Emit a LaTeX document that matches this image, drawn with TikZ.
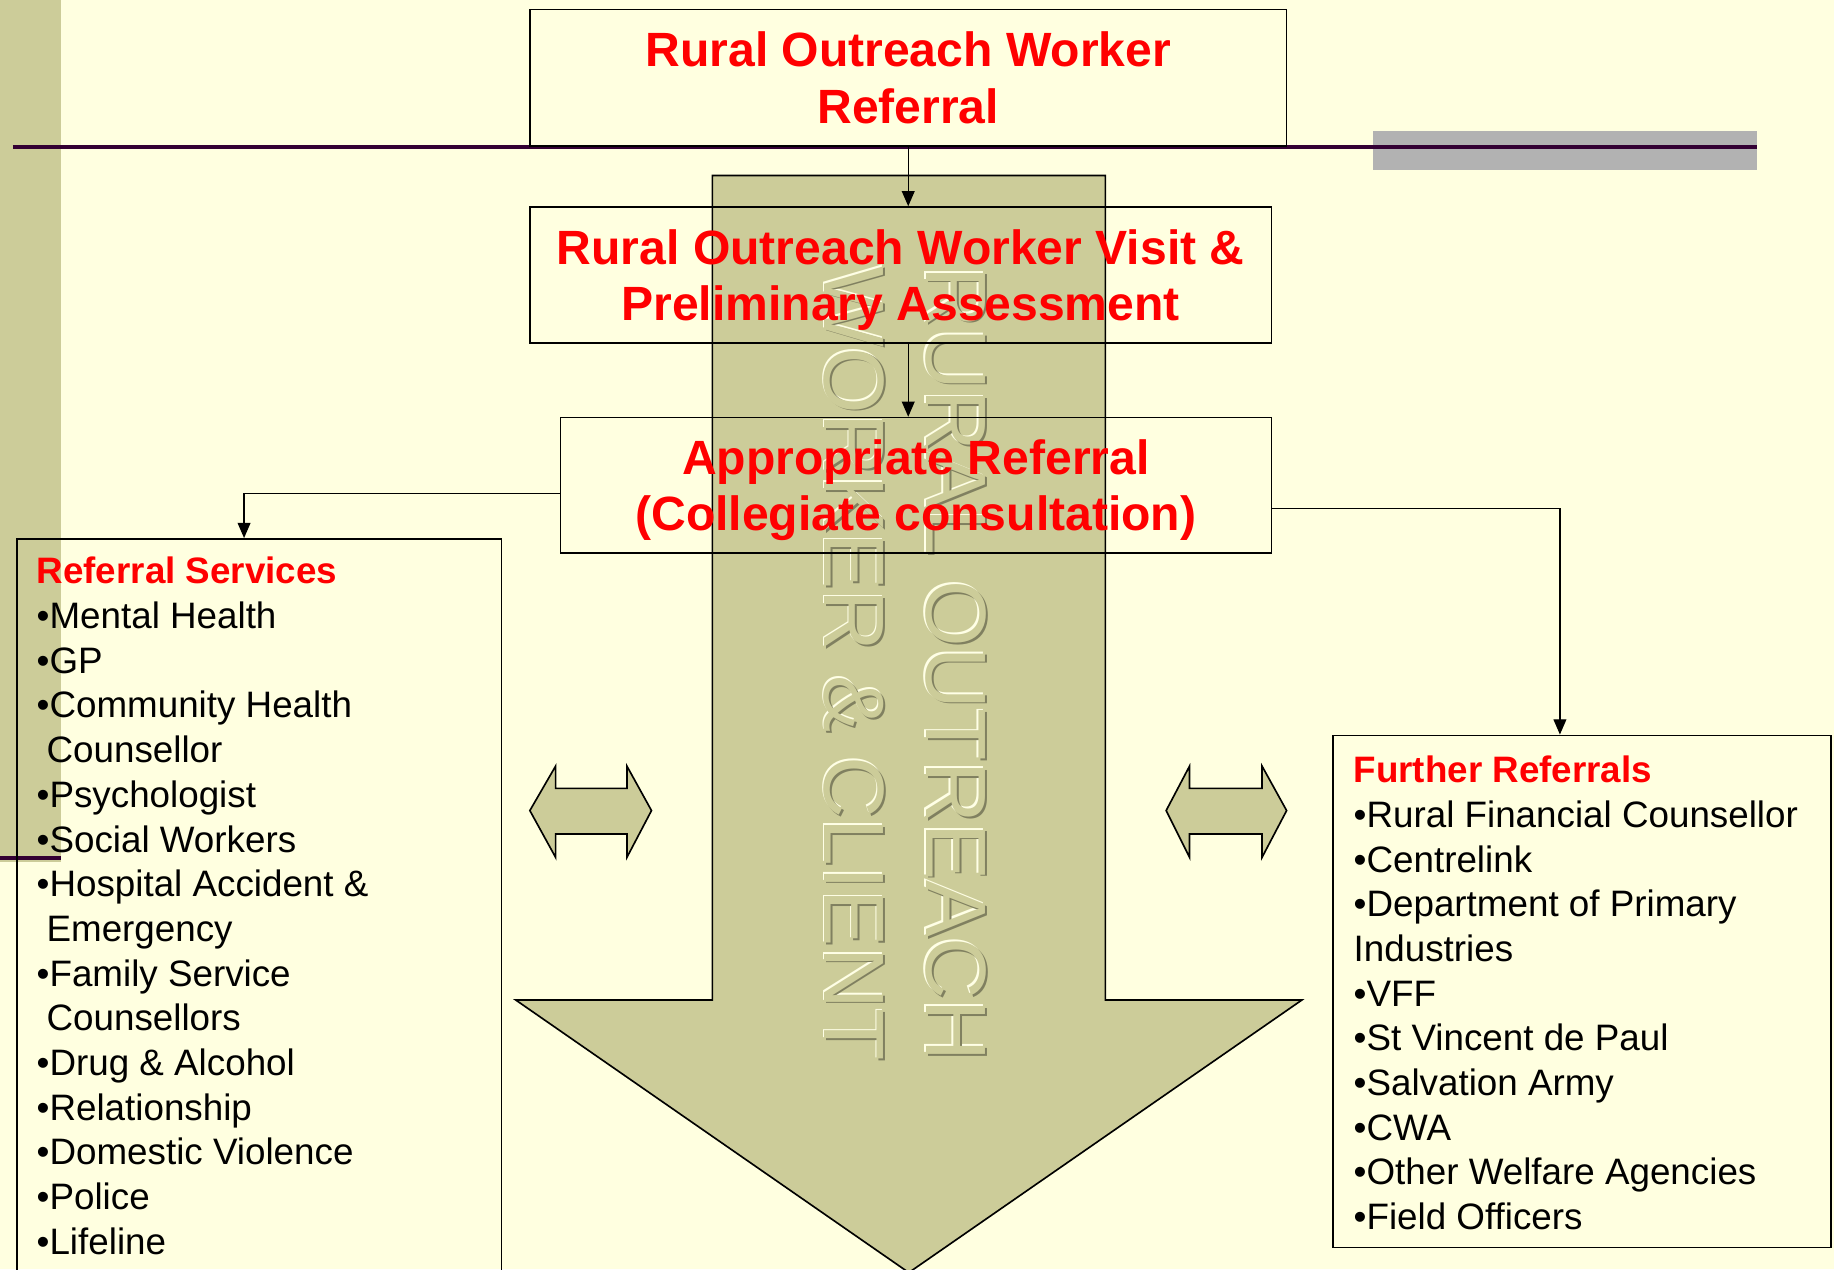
\documentclass[tikz,border=0pt]{standalone}
\usepackage{fontspec}
\setmainfont{Liberation Sans}
\usetikzlibrary{arrows.meta}
\definecolor{bgcream}{RGB}{255,255,224}
\definecolor{khaki}{RGB}{204,204,153}
\definecolor{darkplum}{RGB}{51,0,51}
\definecolor{bargray}{RGB}{178,178,178}
\definecolor{embossdark}{RGB}{128,128,96}
\definecolor{embosslight}{RGB}{255,255,230}
\begin{document}
\begin{tikzpicture}[x=0.02cm, y=-0.02cm,
  flowbox/.style={draw, line width=0.8pt, text=red, align=center, inner sep=0pt,
    font=\bfseries\fontsize{23.4}{27.3}\selectfont},
  listbox/.style={draw, line width=0.8pt, anchor=north west, inner sep=0pt},
  listtext/.style={anchor=north west, align=left, inner sep=0pt,
    font=\fontsize{17.9}{21.75}\selectfont},
  conn/.style={line width=0.6pt, -{Triangle[length=0.26cm, width=0.22cm]}},
  khakishape/.style={fill=khaki, draw, line width=0.8pt},
  emboss/.style={rotate=-90, align=left, inner sep=0pt,
    font=\fontsize{41.7}{49.5}\selectfont}]
  \clip (0,0) rectangle (1568,1085);
  \fill[bgcream] (0,0) rectangle (1568,1085);
  \fill[khaki] (0,0) rectangle (52,737);
  \fill[bargray] (1174,112) rectangle (1502,145);
  \draw[darkplum, line width=2pt] (11,126) -- (1502,126);
  \draw[darkplum, line width=2pt] (0,733.5) -- (52,733.5);

  % big arrow
  \draw[khakishape] (609,150) -- (945,150) -- (945,855) -- (1113,855) -- (777,1088)
    -- (441,855) -- (609,855) -- cycle;
  \node[emboss, text=embosslight] (embosshi) at (772.5,566) {RURAL OUTREACH\\WORKER \& CLIENT};
  \node[emboss, text=embossdark] (embosslo) at (775.5,569) {RURAL OUTREACH\\WORKER \& CLIENT};
  \node[emboss, text=khaki] (embosstext) at (774,567.5) {RURAL OUTREACH\\WORKER \& CLIENT};

  % double arrows
  \draw[khakishape] (453,693) -- (475,655) -- (475,674) -- (536,674) -- (536,655) -- (557,693)
    -- (536,733) -- (536,713) -- (475,713) -- (475,733) -- cycle;
  \draw[khakishape] (997,693) -- (1017,655) -- (1017,674) -- (1079,674) -- (1079,655) -- (1100,693)
    -- (1079,733) -- (1079,713) -- (1017,713) -- (1017,733) -- cycle;

  \node[flowbox, minimum width=12.94cm, minimum height=2.34cm] (refbox) at (776.5,66.5)
    {Rural Outreach Worker\\Referral};
  \node[flowbox, text depth=0pt, minimum width=12.68cm, minimum height=2.32cm] (visitbox)
    at (770,235) {Rural Outreach Worker Visit \&\\Preliminary Assessment};
  \node[flowbox, text depth=0pt, minimum width=12.16cm, minimum height=2.32cm] (apprbox)
    at (783,415) {Appropriate Referral\\(Collegiate consultation)};

  \node[listbox, minimum width=8.28cm, minimum height=12.7cm] (services) at (14,460) {};
  \node[listbox, minimum width=8.52cm, minimum height=8.76cm] (further) at (1139,628) {};

  \node[listtext] (servicestext) at (31,476) {\textcolor{red}{\bfseries Referral Services}\\
    •Mental Health\\•GP\\•Community Health\\\hspace*{0.17cm}Counsellor\\•Psychologist\\
    •Social Workers\\•Hospital Accident \&\\\hspace*{0.17cm}Emergency\\•Family Service\\
    \hspace*{0.17cm}Counsellors\\•Drug \& Alcohol\\•Relationship\\•Domestic Violence\\
    •Police\\•Lifeline};
  \node[listtext] (furthertext) at (1157,646) {\textcolor{red}{\bfseries Further Referrals}\\
    •Rural Financial Counsellor\\•Centrelink\\•Department of Primary\\Industries\\•VFF\\
    •St Vincent de Paul\\•Salvation Army\\•CWA\\•Other Welfare Agencies\\•Field Officers};

  \draw[conn] (refbox.south) -- (visitbox.north -| refbox.south);
  \draw[conn] (visitbox.south -| refbox.south) -- (apprbox.north -| refbox.south);
  \draw[conn] ([yshift=-0.14cm]apprbox.west) -| ([xshift=-0.26cm]services.north);
  \draw[conn] ([yshift=-0.4cm]apprbox.east) -| ([xshift=-0.38cm]further.north);
\end{tikzpicture}
\end{document}
